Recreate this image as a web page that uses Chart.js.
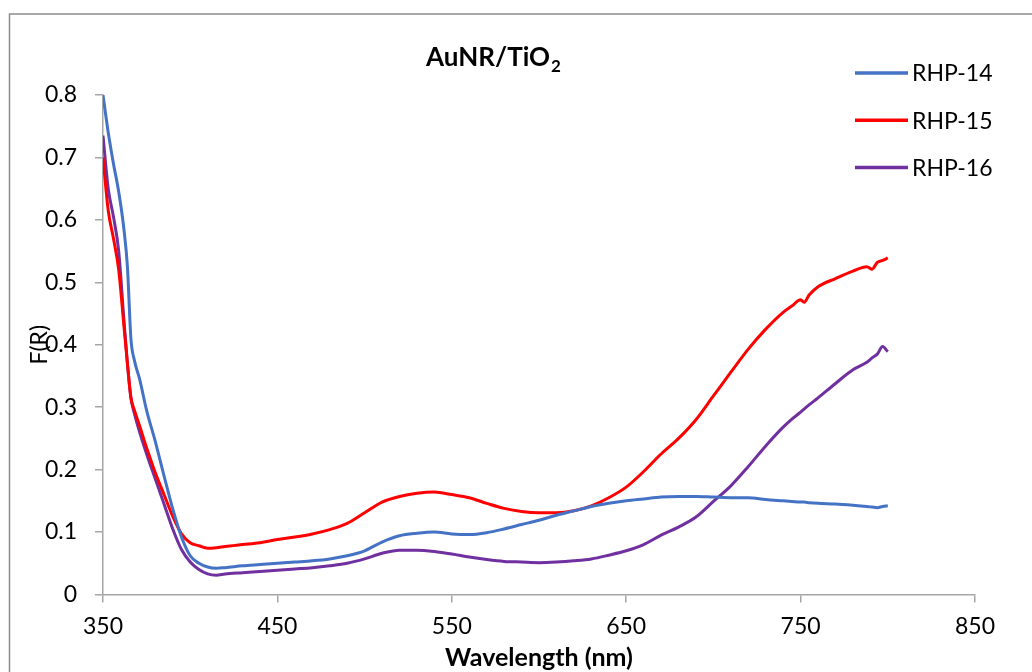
<!DOCTYPE html>
<html>
<head>
<meta charset="utf-8">
<script src="https://cdn.jsdelivr.net/npm/chart.js@4/dist/chart.umd.min.js"></script>
<style>
  html, body { margin: 0; padding: 0; background: #fff; }
  #wrap { width: 1032px; height: 672px; position: relative; }
</style>
</head>
<body>
<div id="wrap"><canvas id="spectra"></canvas></div>
<script>
// wavelengths (nm) and F(R) values
var wavelength = [350, 353, 356, 359, 362, 364, 366, 368, 371, 375, 380, 385, 390, 395, 400, 405, 410, 415, 420,
  430, 440, 450, 460, 470, 480, 490, 500, 510, 520, 530, 540, 550, 560, 570, 580, 590, 600, 610, 620, 630, 640,
  650, 660, 670, 680, 690, 700, 710, 720, 730, 740, 745, 750, 752, 755, 760, 770, 780, 788, 791, 794, 797, 800];

var rhp14 = [0.800, 0.740, 0.690, 0.645, 0.585, 0.525, 0.410, 0.375, 0.345, 0.295, 0.245, 0.190, 0.137, 0.092, 0.062, 0.050, 0.044, 0.042, 0.043,
  0.046, 0.048, 0.050, 0.052, 0.054, 0.057, 0.062, 0.070, 0.084, 0.094, 0.098, 0.100, 0.097, 0.096, 0.099, 0.105, 0.112, 0.119, 0.127, 0.134, 0.141, 0.146,
  0.150, 0.153, 0.156, 0.157, 0.157, 0.156, 0.155, 0.155, 0.152, 0.150, 0.149, 0.148, 0.148, 0.147, 0.146, 0.145, 0.143, 0.141, 0.140, 0.139, 0.141, 0.142];

var rhp15 = [0.700, 0.615, 0.570, 0.520, 0.430, 0.370, 0.315, 0.295, 0.270, 0.235, 0.195, 0.160, 0.125, 0.097, 0.083, 0.078, 0.074, 0.075, 0.077,
  0.080, 0.083, 0.088, 0.092, 0.097, 0.104, 0.114, 0.131, 0.148, 0.157, 0.162, 0.164, 0.160, 0.155, 0.146, 0.138, 0.133, 0.131, 0.131, 0.134, 0.142, 0.155,
  0.172, 0.197, 0.225, 0.250, 0.280, 0.318, 0.356, 0.393, 0.425, 0.452, 0.462, 0.472, 0.468, 0.480, 0.493, 0.506, 0.518, 0.525, 0.521, 0.532, 0.535, 0.539];

var rhp16 = [0.735, 0.650, 0.605, 0.550, 0.440, 0.370, 0.315, 0.290, 0.260, 0.225, 0.185, 0.145, 0.105, 0.072, 0.052, 0.040, 0.033, 0.031, 0.033,
  0.035, 0.037, 0.039, 0.041, 0.043, 0.046, 0.050, 0.057, 0.066, 0.071, 0.071, 0.069, 0.065, 0.060, 0.056, 0.053, 0.052, 0.051, 0.052, 0.054, 0.057, 0.063,
  0.070, 0.080, 0.095, 0.108, 0.124, 0.149, 0.174, 0.205, 0.238, 0.268, 0.281, 0.292, 0.297, 0.304, 0.315, 0.338, 0.360, 0.372, 0.379, 0.385, 0.397, 0.389];

var seriesNames = ['RHP-14', 'RHP-15', 'RHP-16'];
var seriesColors = ['#4472C4', '#FF0000', '#7030A0'];
var seriesValues = [rhp14, rhp15, rhp16];

function toPoints(values) {
  var pts = [];
  for (var i = 0; i < wavelength.length; i++) {
    pts.push({ x: wavelength[i], y: values[i] });
  }
  return pts;
}

var datasets = [];
for (var s = 0; s < seriesNames.length; s++) {
  datasets.push({
    label: seriesNames[s],
    data: toPoints(seriesValues[s]),
    borderColor: seriesColors[s],
    backgroundColor: seriesColors[s],
    borderWidth: 3,
    pointRadius: 0,
    cubicInterpolationMode: 'monotone',
    fill: false
  });
}

var fontFamily = 'Lato, "Open Sans", sans-serif';

// Excel-ish frame, title and legend sitting on top of the plot
var decorations = {
  id: 'decorations',
  afterDraw: function(chart) {
    var ctx = chart.ctx;
    ctx.save();
    ctx.strokeStyle = '#8c8c8c';
    ctx.lineWidth = 1.5;
    ctx.beginPath();
    ctx.moveTo(9.5, 700);
    ctx.lineTo(9.5, 14);
    ctx.lineTo(1040, 14);
    ctx.stroke();

    // title with subscript
    ctx.fillStyle = '#000';
    ctx.textBaseline = 'alphabetic';
    ctx.textAlign = 'left';
    ctx.font = 'bold 26px ' + fontFamily;
    var main = 'AuNR/TiO';
    var w = ctx.measureText(main).width;
    ctx.font = 'bold 17px ' + fontFamily;
    var w2 = ctx.measureText('2').width;
    var x0 = 493 - (w + w2) / 2;
    ctx.font = 'bold 26px ' + fontFamily;
    ctx.fillText(main, x0, 66);
    ctx.font = 'bold 17px ' + fontFamily;
    ctx.fillText('2', x0 + w + 1, 72);

    // legend
    ctx.font = '23px ' + fontFamily;
    ctx.textBaseline = 'middle';
    for (var i = 0; i < seriesNames.length; i++) {
      var y = 73 + i * 47.3;
      ctx.strokeStyle = seriesColors[i];
      ctx.lineWidth = 3.5;
      ctx.beginPath();
      ctx.moveTo(855, y);
      ctx.lineTo(908, y);
      ctx.stroke();
      ctx.fillStyle = '#000';
      ctx.fillText(seriesNames[i], 912, y + 1);
    }
    ctx.restore();
  }
};

var ctx = document.getElementById('spectra');
var chart = new Chart(ctx, {
  type: 'line',
  data: { datasets: datasets },
  plugins: [decorations],
  options: {
    responsive: true,
    maintainAspectRatio: false,
    animation: false,
    layout: { padding: { top: 95, right: 57, bottom: 0, left: 0 } },
    plugins: {
      legend: { display: false },
      title: { display: false },
      tooltip: { enabled: false }
    },
    scales: {
      x: {
        type: 'linear',
        min: 350,
        max: 850,
        ticks: { stepSize: 100, color: '#000', padding: 10, font: { family: fontFamily, size: 23 } },
        grid: { display: true, drawOnChartArea: false, tickLength: 8, color: '#a6a6a6', lineWidth: 1.5 },
        border: { color: '#a6a6a6', width: 1.5 },
        title: {
          display: true,
          text: 'Wavelength (nm)',
          color: '#000',
          font: { family: fontFamily, size: 25, weight: 'bold', lineHeight: 1 },
          padding: { top: 0, bottom: 2 }
        },
        afterFit: function(scale) { scale.height = 77.5; }
      },
      y: {
        min: 0,
        max: 0.8,
        ticks: { stepSize: 0.1, color: '#000', padding: 18, font: { family: fontFamily, size: 23 } },
        grid: { display: true, drawOnChartArea: false, tickLength: 8, color: '#a6a6a6', lineWidth: 1.5 },
        border: { color: '#a6a6a6', width: 1.5 },
        title: {
          display: true,
          text: 'F(R)',
          color: '#000',
          font: { family: fontFamily, size: 23, lineHeight: 1 },
          padding: { top: 28, bottom: 0 }
        },
        afterFit: function(scale) { scale.width = 103; }
      }
    }
  }
});
</script>
</body>
</html>
